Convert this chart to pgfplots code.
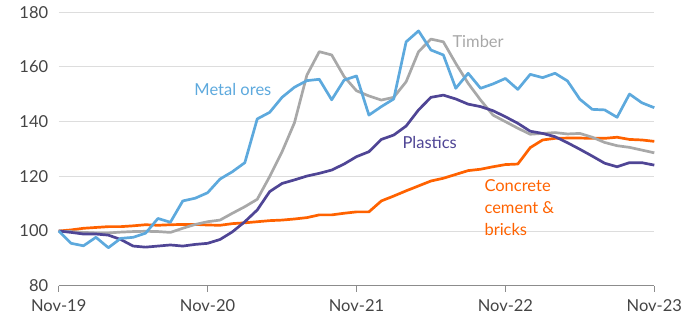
\documentclass[border=0pt]{standalone}
\usepackage{fontspec}
\setmainfont{Lato}
\usepackage{pgfplots}
\pgfplotsset{compat=1.18}
\definecolor{metal}{HTML}{5DA9DD}
\definecolor{timber}{HTML}{A8A8A8}
\definecolor{plast}{HTML}{4F4595}
\definecolor{conc}{HTML}{FF6200}
\definecolor{gridc}{HTML}{DDDDDD}
\definecolor{axc}{HTML}{8C8C8C}
\definecolor{txt}{HTML}{444444}
\begin{document}
\begin{tikzpicture}[x=1pt,y=1pt]
\path[use as bounding box] (-58.7pt,-35.3pt) rectangle (641.3pt,285.7pt);
\begin{axis}[
  at={(0pt,0pt)}, anchor=origin,
  scale only axis, width=595.6pt, height=273.4pt,
  xmin=0, xmax=48, ymin=80, ymax=180,
  xtick={0,12,24,36,48},
  xticklabels={Nov-19,Nov-20,Nov-21,Nov-22,Nov-23},
  ytick={80,100,...,180},
  ymajorgrids, grid style={gridc, line width=1pt},
  axis x line*=bottom, axis y line*=left,
  x axis line style={axc, line width=1pt, -},
  y axis line style={draw=none},
  xtick style={axc, line width=1pt},
  ytick style={draw=none},
  major tick length=6pt,
  xtick align=outside,
  tick label style={font=\fontsize{16.5}{19}\selectfont, text=txt},
  /pgf/number format/assume math mode=true,
  xticklabel style={yshift=-4pt},
  yticklabel style={xshift=-7pt},
  clip=false,
  every axis plot/.append style={line width=2.7pt, line join=round},
]
\addplot[conc] coordinates {
(0,100)(1,100.4)(2,101)(3,101.3)(4,101.6)(5,101.6)(6,101.9)(7,102.3)(8,102.1)(9,102.3)(10,102.4)(11,102.4)(12,102.2)(13,102.1)(14,102.7)(15,103)(16,103.4)(17,103.8)(18,104)(19,104.4)(20,104.9)(21,105.9)(22,105.9)(23,106.5)(24,107)(25,107)(26,111)(27,112.8)(28,114.7)(29,116.5)(30,118.3)(31,119.3)(32,120.7)(33,122.1)(34,122.6)(35,123.5)(36,124.3)(37,124.5)(38,130.5)(39,133.3)(40,133.9)(41,134)(42,134)(43,133.9)(44,133.9)(45,134.3)(46,133.5)(47,133.3)(48,132.8)};
\addplot[timber] coordinates {
(0,100)(1,99.8)(2,99.5)(3,99.3)(4,99.3)(5,99.6)(6,99.8)(7,99.9)(8,99.8)(9,99.5)(10,101)(11,102.4)(12,103.4)(13,104)(14,106.5)(15,108.9)(16,111.6)(17,119.9)(18,129)(19,139.6)(20,157)(21,165.6)(22,164.4)(23,156.5)(24,151.3)(25,149.4)(26,147.9)(27,148.9)(28,154.6)(29,165.6)(30,170.2)(31,169.2)(32,161.3)(33,154)(34,147.9)(35,142.4)(36,140)(37,137.6)(38,135.4)(39,135.7)(40,136)(41,135.5)(42,135.7)(43,134.3)(44,132.4)(45,131.2)(46,130.6)(47,129.6)(48,128.6)};
\addplot[plast] coordinates {
(0,100)(1,99.5)(2,98.9)(3,98.9)(4,98.5)(5,96.9)(6,94.5)(7,94.1)(8,94.5)(9,94.9)(10,94.5)(11,95.1)(12,95.5)(13,96.9)(14,99.7)(15,103.4)(16,107.7)(17,114.4)(18,117.4)(19,118.7)(20,120.1)(21,121.1)(22,122.3)(23,124.5)(24,127.2)(25,129)(26,133.5)(27,135.1)(28,138.4)(29,144.3)(30,148.9)(31,149.7)(32,148.3)(33,146.4)(34,145.5)(35,144)(36,141.8)(37,139.4)(38,136.5)(39,135.7)(40,134.5)(41,132.3)(42,129.9)(43,127.4)(44,124.8)(45,123.5)(46,125)(47,125)(48,124.1)};
\addplot[metal] coordinates {
(0,100)(1,95.5)(2,94.6)(3,97.7)(4,93.9)(5,97.3)(6,97.7)(7,99.2)(8,104.6)(9,103.2)(10,111)(11,112)(12,114)(13,119)(14,121.7)(15,125)(16,141)(17,143.4)(18,148.9)(19,152.6)(20,155)(21,155.5)(22,148)(23,155.2)(24,156.7)(25,142.4)(26,145.5)(27,148.3)(28,169.2)(29,173.2)(30,166.2)(31,164.4)(32,152.2)(33,157.7)(34,152.2)(35,153.8)(36,155.8)(37,151.8)(38,157.3)(39,156.1)(40,157.7)(41,154.9)(42,148.2)(43,144.5)(44,144.3)(45,141.6)(46,150.1)(47,146.9)(48,145.1)};
\node[font=\fontsize{16.5}{19}\selectfont, text=metal] at (axis cs:14.04,151.6) {Metal ores};
\node[font=\fontsize{16.5}{19}\selectfont, text=timber] at (axis cs:33.8,169.5) {Timber};
\node[font=\fontsize{16.5}{19}\selectfont, text=plast] at (axis cs:29.9,132.2) {Plastics};
\node[font=\fontsize{16.5}{22}\selectfont, text=conc, anchor=west, align=left, inner sep=0pt] at (axis cs:34.3,108.4) {Concrete\\cement \&\\bricks};
\end{axis}
\end{tikzpicture}
\end{document}
